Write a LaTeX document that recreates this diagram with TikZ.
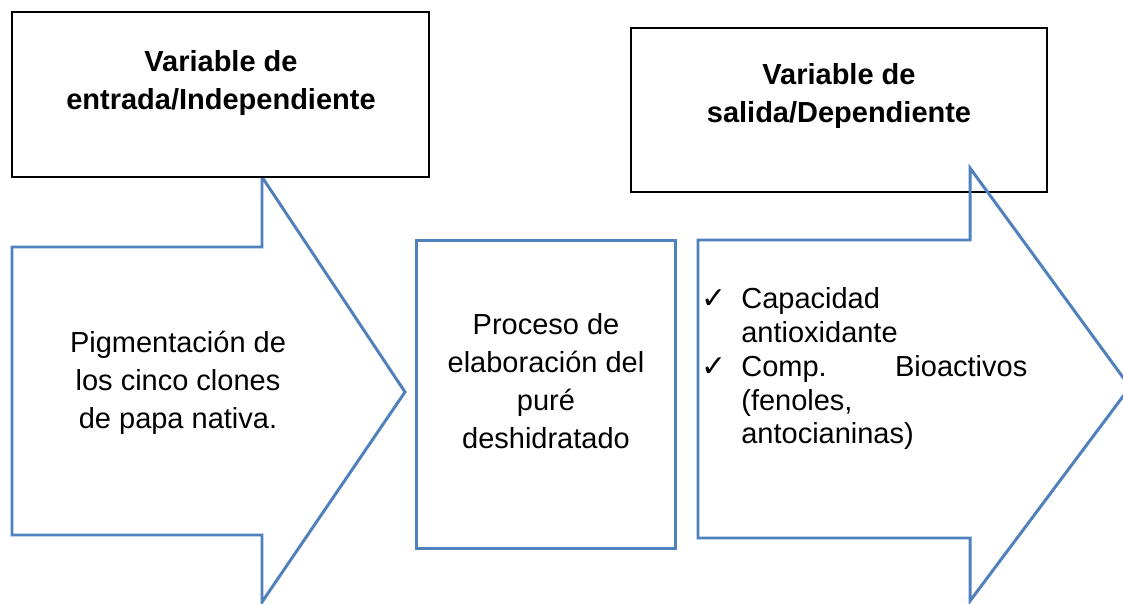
\documentclass[tikz,border=0pt]{standalone}
\usepackage{fontspec}
\setmainfont{Liberation Sans}
\newfontfamily\symfont{DejaVu Sans}
\usetikzlibrary{positioning}
\definecolor{ofblue}{RGB}{79,129,189}
\newcommand{\chk}{\leavevmode\llap{{\symfont\fontsize{17}{17}\selectfont ✓}\hspace{0.3cm}}}

\begin{document}
\begin{tikzpicture}
    [x=0.02cm,y=-0.02cm,
     box/.style={draw,line width=1.2pt,fill=white,inner sep=0pt},
     bbox/.style={draw=ofblue,line width=1.7pt,inner sep=0pt},
     arr/.style={draw=ofblue,line width=1.7pt,line join=miter},
     txt/.style={align=center,inner sep=0pt,font=\fontsize{16.5}{21.5}\selectfont},
     ttl/.style={txt,font=\bfseries\fontsize{16.5}{21.5}\selectfont}]
    \useasboundingbox (0,0) rectangle (1123,604);
    % entrada
    \draw[arr] (12,247) -- (262,247) -- (262,177) -- (405,392) -- (262,602)
        -- (262,535) -- (12,535) -- cycle;
    \node[box,minimum width=8.34cm,minimum height=3.3cm] (inbox) at (220.5,94.5) {};
    \node[ttl] (intitle) at (221,83) {Variable de\\entrada/Independiente};
    \node[txt] (intext) at (178,383) {Pigmentación de\\los cinco clones\\de papa nativa.};
    % proceso
    \node[bbox,minimum width=5.2cm,minimum height=6.18cm] (proc) at (546,394.5) {};
    \node[txt] (proctext) at (546,381) {Proceso de\\elaboración del\\puré\\deshidratado};
    % salida
    \node[box,minimum width=8.32cm,minimum height=3.28cm] (outbox) at (839,110) {};
    \node[ttl] (outtitle) at (839,96) {Variable de\\salida/Dependiente};
    \draw[arr] (698,240) -- (970,240) -- (970,168) -- (1130,387) -- (970,601)
        -- (970,538) -- (698,538) -- cycle;
    \node[txt,align=left,text width=5.72cm,anchor=north west,
          font=\fontsize{16.5}{19.3}\selectfont] (outlist) at (741,287)
        {\chk Capacidad\\antioxidante\\\chk\makebox[\linewidth]{Comp.\hfill Bioactivos}\\(fenoles,\\antocianinas)};
\end{tikzpicture}
\end{document}
